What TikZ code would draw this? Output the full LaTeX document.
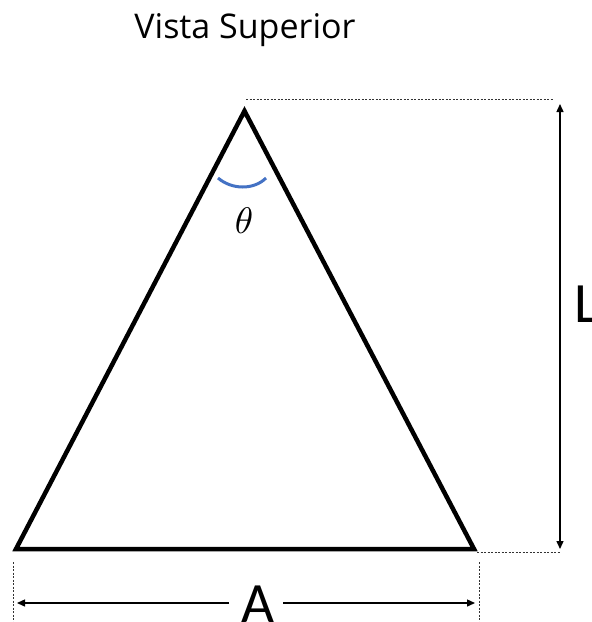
\documentclass[tikz,border=0pt]{standalone}
\usepackage{fontspec}
\setmainfont{Carlito}
\newfontfamily\titlefont{Open Sans}
\usetikzlibrary{arrows.meta}
\definecolor{arcblue}{RGB}{68,114,196}
\begin{document}
\begin{tikzpicture}[x=1pt,y=-1pt,
  edge/.style={line width=4.5pt,line join=miter,black},
  guide/.style={line width=0.8pt,black!80,dash pattern=on 2pt off 1.5pt},
  dim/.style={line width=1.4pt,{Triangle[length=8pt,width=7pt]}-{Triangle[length=8pt,width=7pt]}},
  biglabel/.style={font=\fontsize{57}{60}\selectfont,inner sep=0pt}]
\useasboundingbox (0,0) rectangle (592,622);
% triangle
\coordinate (apex) at (244.5,111);
\coordinate (bl) at (16,549);
\coordinate (br) at (474,549);
\draw[edge] (bl) -- (apex) -- (br) -- cycle;
% title
\node[font=\titlefont\fontsize{34}{38}\selectfont,inner sep=0pt] (title) at (245,30) {Vista Superior};
% angle arc
\coordinate (arcL) at (218,178);
\coordinate (arcR) at (266,178);
\draw[arcblue,line width=3pt] (arcL) .. controls (232,190) and (254,190) .. (arcR);
\node[font=\fontsize{10}{12}\selectfont,inner sep=0pt,scale=3.7] (theta) at (244,221) {$\theta$};
% L dimension
\coordinate (topg0) at (246,99);
\coordinate (topg1) at (553,99);
\coordinate (botg0) at (477,552);
\coordinate (botg1) at (561,552);
\draw[guide] (topg0) -- (topg1);
\draw[guide] (botg0) -- (botg1);
\coordinate (Ltop) at (560,104);
\coordinate (Lbot) at (560,549);
\draw[dim] (Ltop) -- (Lbot);
\node[biglabel,anchor=west] (L) at (574,304) {L};
% A dimension
\coordinate (lg0) at (13.5,562);
\coordinate (lg1) at (13.5,622);
\coordinate (rg0) at (479,562);
\coordinate (rg1) at (479,622);
\draw[guide] (lg0) -- (lg1);
\draw[guide] (rg0) -- (rg1);
\node[biglabel] (A) at (258,604) {A};
\coordinate (Aleft) at (17,603);
\coordinate (Aright) at (475,603);
\draw[line width=1.4pt,-{Triangle[length=8pt,width=7pt]}] (229,603) -- (Aleft);
\draw[line width=1.4pt,-{Triangle[length=8pt,width=7pt]}] (283,603) -- (Aright);
\end{tikzpicture}
\end{document}
